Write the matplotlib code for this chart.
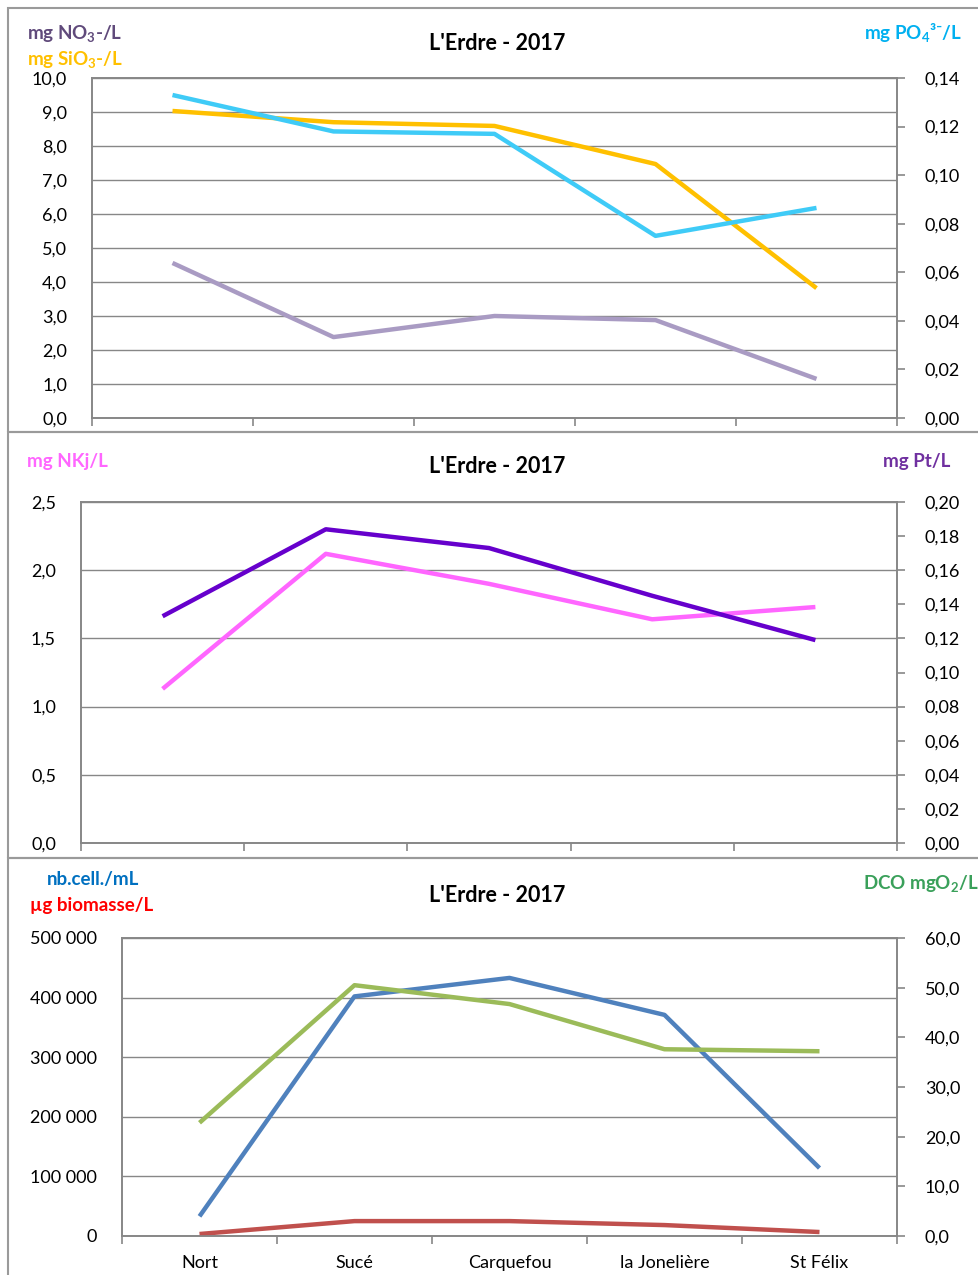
import numpy as np
import matplotlib
matplotlib.use("Agg")
import matplotlib.pyplot as plt
from matplotlib.ticker import FuncFormatter, FixedLocator
from matplotlib.patches import Rectangle

plt.rcParams['font.family'] = ['Lato', 'DejaVu Sans']
plt.rcParams['mathtext.fontset'] = 'custom'
plt.rcParams['mathtext.rm'] = 'Lato'
plt.rcParams['mathtext.bf'] = 'Lato:bold'

sites = ["Nort", "Sucé", "Carquefou", "la Jonelière", "St Félix"]
title = "L'Erdre - 2017"

# panel 1
no3 = [4.56, 2.38, 3.0, 2.88, 1.15]
sio3 = [9.03, 8.70, 8.59, 7.47, 3.82]
po4 = [0.133, 0.118, 0.117, 0.075, 0.0865]

# panel 2
nkj = [1.13, 2.12, 1.90, 1.64, 1.73]
pt = [0.133, 0.184, 0.173, 0.145, 0.119]

# panel 3
cells = [33000, 402000, 433000, 371000, 114000]
biomasse = [0.4, 3.0, 3.0, 2.2, 0.8]
dco = [22.8, 50.5, 46.7, 37.6, 37.2]

grey = "#878787"
W, H = 979, 1275
fig = plt.figure(figsize=(W / 100, H / 100), dpi=100)


def fr(v, dec):
    return ("{:.%df}" % dec).format(v).replace(".", ",")


def thousands(v, pos=None):
    return "{:,.0f}".format(v).replace(",", " ")


def make_axes(left, right, top, bottom, lmax, lstep, ldec, rmax, rstep, rdec,
              show_labels=False, lfmt=None):
    ax = fig.add_axes([left / W, 1 - bottom / H, (right - left) / W, (bottom - top) / H])
    ax2 = ax.twinx()
    n = len(sites)
    x = np.arange(n)
    ax.set_xlim(-0.5, n - 0.5)
    ax.set_ylim(0, lmax)
    ax2.set_ylim(0, rmax)
    lt = np.arange(0, lmax + lstep / 2, lstep)
    rt = np.arange(0, rmax + rstep / 2, rstep)
    ax.yaxis.set_major_locator(FixedLocator(lt))
    ax2.yaxis.set_major_locator(FixedLocator(rt))
    if lfmt is None:
        ax.yaxis.set_major_formatter(FuncFormatter(lambda v, p: fr(v, ldec)))
    else:
        ax.yaxis.set_major_formatter(FuncFormatter(lfmt))
    ax2.yaxis.set_major_formatter(FuncFormatter(lambda v, p: fr(v, rdec)))
    ax.set_xticks(np.arange(-0.5, n, 1.0))
    ax.set_xticklabels([])
    if show_labels:
        ax.set_xticks(x, minor=True)
        ax.set_xticklabels(sites, minor=True, fontsize=13)
        ax.tick_params(axis='x', which='minor', length=0, pad=14)
    ax.grid(axis='y', color=grey, lw=1)
    ax.set_axisbelow(True)
    for a in (ax, ax2):
        for s in a.spines.values():
            s.set_color(grey)
            s.set_linewidth(1.2)
    ax.tick_params(axis='y', length=0, labelsize=13, pad=18)
    ax.tick_params(axis='x', which='major', length=6, color=grey, width=1.2)
    ax2.tick_params(axis='y', length=6, color=grey, width=1.2, labelsize=13, pad=14)
    return ax, ax2, x


# panel borders
for y0, y1 in [(8, 432), (432, 858), (858, 1280)]:
    fig.add_artist(Rectangle((8 / W, 1 - y1 / H), 1.0, (y1 - y0) / H,
                             transform=fig.transFigure, fill=False,
                             edgecolor="#9a9a9a", lw=1.5))

# panel 1
ax, ax2, x = make_axes(92, 897, 78, 418, 10, 1, 1, 0.14, 0.02, 2)
ax.plot(x, no3, color="#A99BC3", lw=3.2, solid_capstyle='butt')
ax.plot(x, sio3, color="#FFC000", lw=3.2, solid_capstyle='butt')
ax2.plot(x, po4, color="#3FCBF7", lw=3.2, solid_capstyle='butt')
fig.text(497 / W, 1 - 43 / H, title, ha='center', va='center', fontsize=15.5, fontweight='bold')
fig.text(27 / W, 1 - 33 / H, r"mg NO$\mathbf{_3}$-/L", color="#604A7B", fontsize=13.5,
         fontweight='bold', va='center')
fig.text(27 / W, 1 - 59 / H, r"mg SiO$\mathbf{_3}$-/L", color="#FFC000", fontsize=13.5,
         fontweight='bold', va='center')
fig.text(962 / W, 1 - 33 / H, r"mg PO$\mathbf{_4}$" + "³⁻/L", color="#00B0F0", fontsize=13.5,
         fontweight='bold', va='center', ha='right')

# panel 2
ax, ax2, x = make_axes(81, 897, 502, 843, 2.5, 0.5, 1, 0.20, 0.02, 2)
ax.plot(x, nkj, color="#FF66FF", lw=3.2, solid_capstyle='butt')
ax2.plot(x, pt, color="#6600CC", lw=3.2, solid_capstyle='butt')
fig.text(497 / W, 1 - 467 / H, title, ha='center', va='center', fontsize=15.5, fontweight='bold')
fig.text(27 / W, 1 - 461 / H, "mg NKj/L", color="#FF66FF", fontsize=13.5,
         fontweight='bold', va='center')
fig.text(950 / W, 1 - 462 / H, "mg Pt/L", color="#7030A0", fontsize=13.5,
         fontweight='bold', va='center', ha='right')

# panel 3
ax, ax2, x = make_axes(122, 897, 938, 1236, 500000, 100000, 0, 60, 10, 1,
                       show_labels=True, lfmt=thousands)
ax.plot(x, cells, color="#4F81BD", lw=3.2, solid_capstyle='butt')
ax2.plot(x, dco, color="#9BBB59", lw=3.2, solid_capstyle='butt')
ax2.plot(x, biomasse, color="#C0504D", lw=3.2, solid_capstyle='butt')
fig.text(497 / W, 1 - 895 / H, title, ha='center', va='center', fontsize=15.5, fontweight='bold')
fig.text(47 / W, 1 - 880 / H, "nb.cell./mL", color="#0070C0", fontsize=13.5,
         fontweight='bold', va='center')
fig.text(30 / W, 1 - 906 / H, "µg biomasse/L", color="#FF0000", fontsize=13.5,
         fontweight='bold', va='center')
fig.text(979 / W, 1 - 884 / H, r"DCO mgO$\mathbf{_2}$/L", color="#3AA05A", fontsize=13.5,
         fontweight='bold', va='center', ha='right')

fig.savefig("out.png", dpi=100)
